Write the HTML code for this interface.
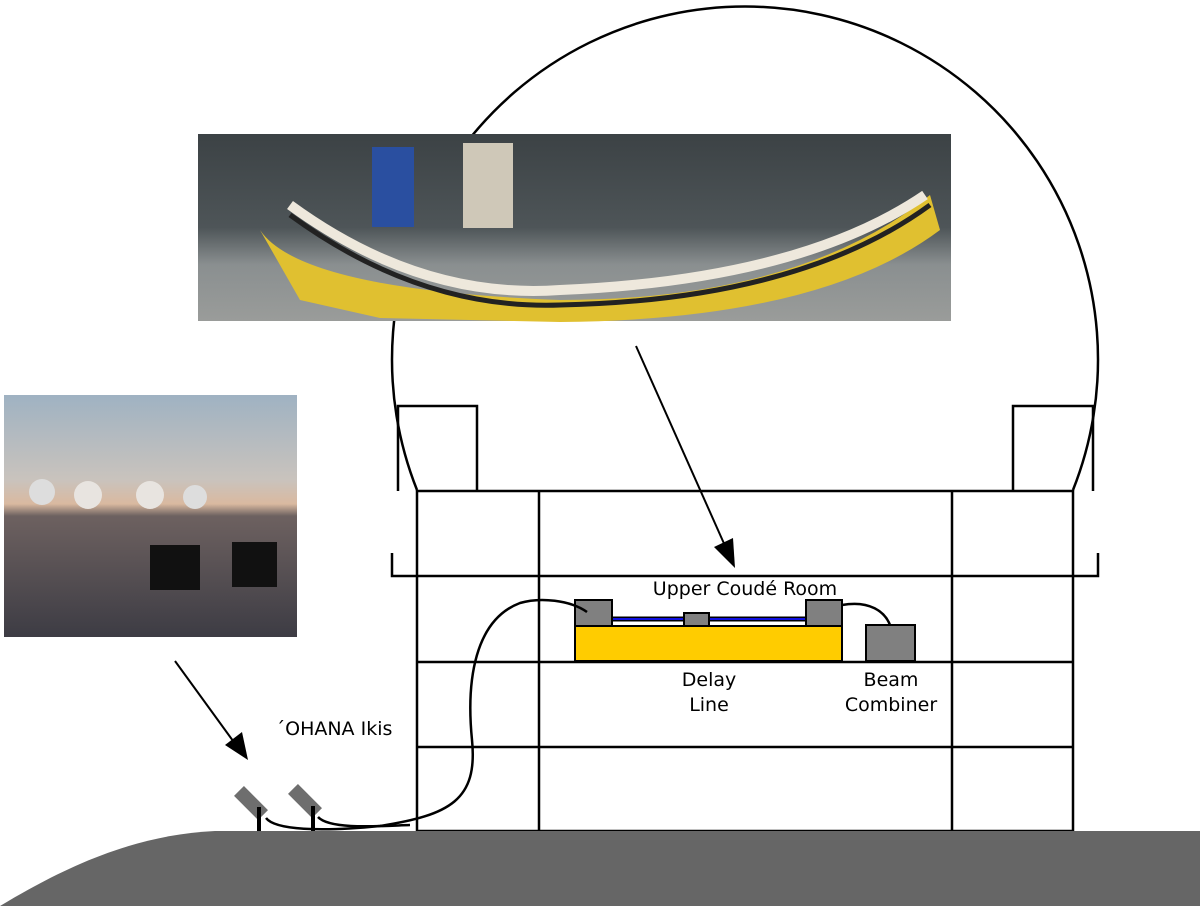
<!DOCTYPE html>
<html><head><style>
body{margin:0;width:1200px;height:906px;background:#fff;overflow:hidden;font-family:"DejaVu Sans","Liberation Sans",sans-serif}
</style></head><body>
<svg width="1200" height="906" viewBox="0 0 1200 906" xmlns="http://www.w3.org/2000/svg">
<defs>
<linearGradient id="sky" x1="0" y1="0" x2="0" y2="1">
<stop offset="0" stop-color="#9fb2c2"/><stop offset="0.35" stop-color="#c9c3bd"/><stop offset="0.45" stop-color="#d9b9a0"/><stop offset="0.5" stop-color="#6d6160"/><stop offset="1" stop-color="#3d3c44"/>
</linearGradient>
<linearGradient id="pano" x1="0" y1="0" x2="0" y2="1">
<stop offset="0" stop-color="#3c4245"/><stop offset="0.5" stop-color="#4e5558"/><stop offset="0.7" stop-color="#8a8f90"/><stop offset="1" stop-color="#9a9c9a"/>
</linearGradient>
</defs>
<path d="M417,490 A353,353 0 1 1 1073,490" fill="none" stroke="#000" stroke-width="2.5"/>
<rect x="198" y="134" width="753" height="187" fill="url(#pano)"/>
<rect x="372" y="147" width="42" height="80" fill="#2a4fa0"/>
<rect x="463" y="143" width="50" height="85" fill="#cfc8b8"/>
<path d="M260,230 Q300,290 560,300 Q800,300 930,195 L940,230 Q820,320 560,322 L380,318 L300,300 Z" fill="#e0c030"/>
<path d="M290,205 Q420,300 560,290 Q800,280 925,195" fill="none" stroke="#eee8dc" stroke-width="10"/>
<path d="M290,215 Q420,310 560,305 Q800,300 930,205" fill="none" stroke="#222" stroke-width="5"/>
<rect x="4" y="395" width="293" height="242" fill="url(#sky)"/>
<circle cx="88" cy="495" r="14" fill="#e8e4e0"/><circle cx="150" cy="495" r="14" fill="#e8e4e0"/><circle cx="42" cy="492" r="13" fill="#ddd"/><circle cx="195" cy="497" r="12" fill="#ddd"/>
<rect x="150" y="545" width="50" height="45" fill="#111"/><rect x="232" y="542" width="45" height="45" fill="#111"/>
<g fill="none" stroke="#000" stroke-width="2.5">
<rect x="417" y="491" width="656" height="340"/>
<line x1="539" y1="491" x2="539" y2="831"/><line x1="952" y1="491" x2="952" y2="831"/>
<polyline points="392,553 392,576 1098,576 1098,553"/>
<line x1="417" y1="662" x2="1073" y2="662"/><line x1="417" y1="747" x2="1073" y2="747"/>
<polyline points="398,491 398,406 477,406 477,491"/>
<polyline points="1093,491 1093,406 1013,406 1013,491"/>
</g>
<rect x="575" y="626" width="267" height="35" fill="#ffcc00" stroke="#000" stroke-width="2"/>
<line x1="612" y1="619" x2="806" y2="619" stroke="#000" stroke-width="5"/>
<line x1="612" y1="619" x2="806" y2="619" stroke="#1010e0" stroke-width="2"/>
<rect x="575" y="600" width="37" height="26" fill="#808080" stroke="#000" stroke-width="2"/>
<rect x="806" y="600" width="36" height="26" fill="#808080" stroke="#000" stroke-width="2"/>
<rect x="684" y="613" width="25" height="13" fill="#808080" stroke="#000" stroke-width="2"/>
<rect x="866" y="625" width="49" height="36" fill="#808080" stroke="#000" stroke-width="2"/>
<g fill="none" stroke="#000" stroke-width="2.5">
<path d="M587,612 C570,600 540,597 520,603 C475,620 466,680 472,740 C478,800 450,815 380,826 C320,832 275,830 266,818"/>
<path d="M318,817 C330,830 380,826 410,825"/>
<path d="M842,605 C870,600 885,612 890,625"/>
</g>
<path d="M0,906 C60,870 130,835 215,831 L1200,831 L1200,906 Z" fill="#666"/>
<rect x="244" y="786" width="14" height="34" fill="#6e6e6e" transform="rotate(-45 251 803)"/>
<rect x="298" y="784" width="14" height="34" fill="#6e6e6e" transform="rotate(-45 305 801)"/>
<line x1="259" y1="807" x2="259" y2="831" stroke="#000" stroke-width="4"/>
<line x1="313" y1="806" x2="313" y2="831" stroke="#000" stroke-width="4"/>
<g stroke="#000" stroke-width="2">
<line x1="636" y1="346" x2="726" y2="548"/>
<line x1="175" y1="661" x2="236" y2="745"/>
</g>
<polygon points="735,568 714,547 733,538" fill="#000"/>
<polygon points="248,760 225,745 242,732" fill="#000"/>
<g font-size="19" fill="#000" text-anchor="middle">
<text x="745" y="595">Upper Coudé Room</text>
<text x="709" y="686">Delay</text><text x="709" y="711">Line</text>
<text x="891" y="686">Beam</text><text x="891" y="711">Combiner</text>
<text x="334" y="735">´OHANA Ikis</text>
</g>
</svg>
</body></html>
